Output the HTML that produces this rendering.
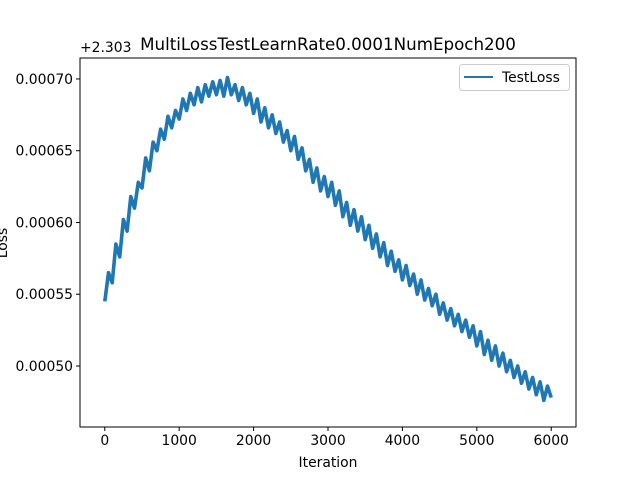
<!DOCTYPE html>
<html><head><meta charset="utf-8"><style>
body{margin:0;background:#fff}
svg{display:block;font-family:"DejaVu Sans","Liberation Sans",sans-serif}
</style></head><body>
<svg id="chart" width="640" height="480" viewBox="0 0 640 480">
<rect width="640" height="480" fill="#fff"/>
<g id="plot"></g>
<text x="328" y="50" text-anchor="middle" font-size="16.7">MultiLossTestLearnRate0.0001NumEpoch200</text>
<text x="80" y="52" font-size="13.9">+2.303</text>
<text x="328" y="467" text-anchor="middle" font-size="13.9">Iteration</text>
<text transform="translate(7,243) rotate(-90)" text-anchor="middle" font-size="13.9">Loss</text>
<g>
<rect x="459.5" y="64.5" width="110" height="26" rx="3" fill="#fff" stroke="#ccc"/>
<line x1="464" y1="77" x2="493" y2="77" stroke="#1f77b4" stroke-width="2"/>
<text x="502" y="82" font-size="13.9">TestLoss</text>
</g>
</svg>
<script>
// test loss values (units of 1e-5 above 2.303), one every 50 iterations
const iterStep = 50;
const lossValues = [
54.5,56.5,55.8,58.5,57.6,60.2,59.4,61.8,61.0,62.8,
62.4,64.5,63.6,65.6,65.0,66.5,65.8,67.4,66.6,67.8,
67.2,68.6,67.8,69.0,68.2,69.4,68.4,69.6,68.8,69.8,
68.9,69.9,68.8,70.1,68.9,69.6,68.5,69.4,68.2,69.0,
67.6,68.6,67.0,68.0,66.6,67.5,66.2,67.0,65.6,66.4,
65.0,66.0,64.4,65.2,63.6,64.4,62.8,63.8,62.2,63.2,
61.8,62.8,61.2,62.2,60.4,61.4,59.8,60.9,59.4,60.4,
58.8,59.8,58.2,59.2,57.6,58.6,57.0,58.0,56.6,57.4,
56.0,57.0,55.6,56.4,55.0,56.0,54.6,55.4,54.2,55.0,
53.6,54.4,53.2,54.0,52.8,53.6,52.4,53.2,52.0,52.8,
51.4,52.4,50.8,51.8,50.4,51.4,50.0,50.9,49.6,50.4,
49.2,50.0,48.8,49.6,48.4,49.2,48.0,48.9,47.6,48.6,
47.8];
const xTicks = [0,1000,2000,3000,4000,5000,6000];
const yTicks = [50,55,60,65,70];
const yTickLabels = ["0.00050","0.00055","0.00060","0.00065","0.00070"];

const L=80,R=576,T=58,B=427;
const xmin=-333,xmax=6333, ymin=45.75, ymax=71.46;
const X=v=>L+(v-xmin)/(xmax-xmin)*(R-L);
const Y=v=>B-(v-ymin)/(ymax-ymin)*(B-T);
const NS="http://www.w3.org/2000/svg";
const g=document.getElementById('plot');
function mk(tag,attrs,parent){const e=document.createElementNS(NS,tag);for(const k in attrs)e.setAttribute(k,attrs[k]);(parent||g).appendChild(e);return e;}

let d="";
lossValues.forEach((v,i)=>{d+=(i?"L":"M")+X(i*iterStep).toFixed(1)+","+Y(v).toFixed(1);});
const line=mk('path',{d:d,fill:"none",stroke:"#1f77b4","stroke-width":"3.6","stroke-linejoin":"round"});



const frame=mk('rect',{x:L,y:T,width:R-L,height:B-T,fill:"none",stroke:"#000","stroke-width":"1"});



xTicks.forEach(t=>{
  const x=X(t);
  const tk=mk('line',{x1:x,y1:B,x2:x,y2:B+4,stroke:"#000"});
  
  
  const tx=mk('text',{x:x,y:B+18,"text-anchor":"middle","font-size":"13.9"});
  tx.textContent=t;
  
  
});
yTicks.forEach((t,i)=>{
  const y=Y(t);
  const tk=mk('line',{x1:L-4,y1:y,x2:L,y2:y,stroke:"#000"});
  
  
  const tx=mk('text',{x:L-7,y:y+5,"text-anchor":"end","font-size":"13.9"});
  tx.textContent=yTickLabels[i];
  
  
});
</script>
</body></html>
